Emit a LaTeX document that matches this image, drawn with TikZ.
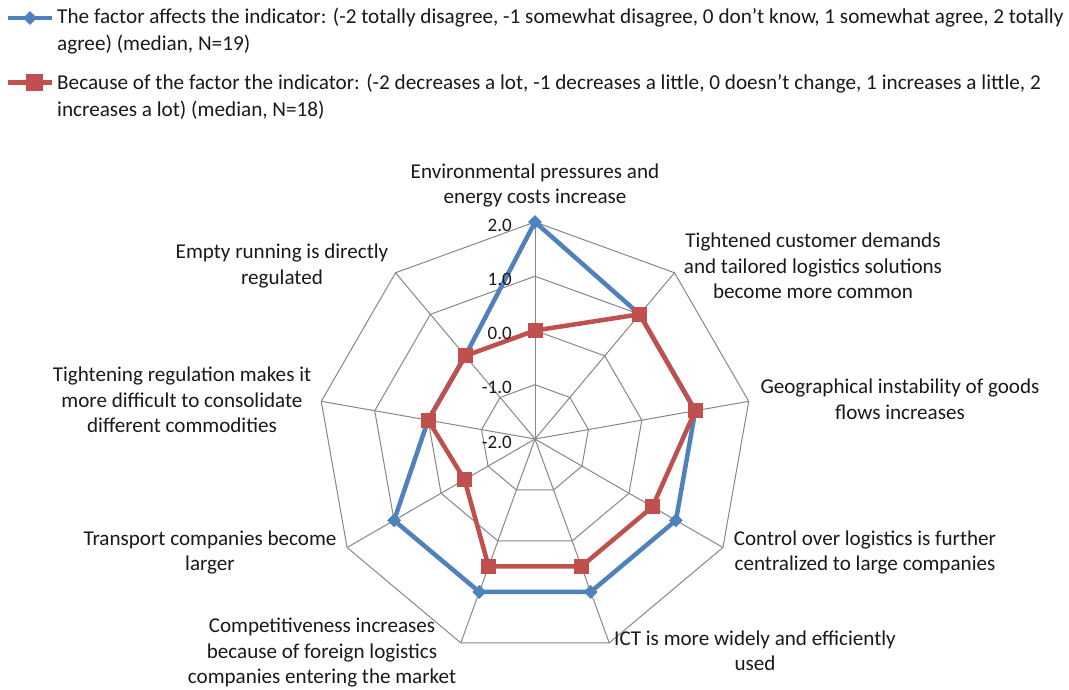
\documentclass[tikz,border=0pt]{standalone}
\usepackage{fontspec}
\setmainfont{Carlito}
\usetikzlibrary{shapes.geometric}
\definecolor{serblue}{HTML}{4F81BD}
\definecolor{serred}{HTML}{C0504D}
\definecolor{gridc}{HTML}{878787}
\definecolor{txt}{HTML}{1A1A1A}
\begin{document}
\begin{tikzpicture}[x=1pt,y=-1pt,
  cat/.style={align=center, inner sep=0pt, text=txt, font=\fontsize{21.1}{25.5}\selectfont},
  leg/.style={align=left, inner sep=0pt, text=txt, anchor=west, font=\fontsize{21.2}{27.5}\selectfont},
  ticklab/.style={inner sep=0pt, text=txt, anchor=east, font=\fontsize{19}{22}\selectfont},
  gridline/.style={draw=gridc, line width=1pt},
  blueline/.style={draw=serblue, line width=4.5pt, line join=round},
  redline/.style={draw=serred, line width=4.5pt, line join=round},
  bluemark/.style={diamond, fill=serblue, inner sep=0pt, minimum size=14pt},
  redmark/.style={rectangle, fill=serred, inner sep=0pt, minimum size=15pt}]
\useasboundingbox (0,0) rectangle (1069,690);
\fill[white] (0,0) rectangle (1069,690);

% legend
\coordinate (l1a) at (8,18); \coordinate (l1b) at (52,18);
\draw[blueline] (l1a) -- (l1b);
\node[bluemark] (lm1) at (30,18) {};
\node[leg] (lt1) at (57,31) {The factor affects the indicator: (-2 totally disagree, -1 somewhat disagree, 0 don't know, 1 somewhat agree, 2 totally\\agree) (median, N=19)};
\coordinate (l2a) at (8,82.5); \coordinate (l2b) at (52,82.5);
\draw[redline] (l2a) -- (l2b);
\node[redmark, minimum size=17pt] (lm2) at (34,82.5) {};
\node[leg] (lt2) at (57,96.5) {Because of the factor the indicator: (-2 decreases a lot, -1 decreases a little, 0 doesn't change, 1 increases a little, 2\\increases a lot) (median, N=18)};

% radar
\begin{scope}[shift={(535,439)}, y=1pt]
  \coordinate (C) at (0,0);
  \foreach \r in {54.25,108.5,162.75,217}
    \draw[gridline] (90:\r) \foreach \i in {1,...,8}{ -- ({90-40*\i}:\r)} -- cycle;
  \foreach \i in {0,...,8}
    \draw[gridline] (C) -- ({90-40*\i}:217);
  % series
  \foreach \v [count=\i from 0] in {2,1,1,1,1,1,1,0,0}
    \coordinate (b\i) at ({90-40*\i}:{(\v+2)*54.25});
  \foreach \v [count=\i from 0] in {0,1,1,0.5,0.5,0.5,-0.5,0,0}
    \coordinate (r\i) at ({90-40*\i}:{(\v+2)*54.25});
  \draw[blueline] (b0) -- (b1) -- (b2) -- (b3) -- (b4) -- (b5) -- (b6) -- (b7) -- (b8) -- cycle;
  \foreach \i in {0,...,8} \node[bluemark] (bm\i) at (b\i) {};
  \draw[redline] (r0) -- (r1) -- (r2) -- (r3) -- (r4) -- (r5) -- (r6) -- (r7) -- (r8) -- cycle;
  \foreach \i in {0,...,8} \node[redmark] (rm\i) at (r\i) {};
  % tick labels
  \node[ticklab] (t2) at (-23,214) {2.0};
  \node[ticklab] (t1) at (-23,160) {1.0};
  \node[ticklab] (t0) at (-23,105.5) {0.0};
  \node[ticklab] (tm1) at (-23,51.25) {-1.0};
  \node[ticklab] (tm2) at (-23,-3) {-2.0};
\end{scope}

% category labels
\node[cat] (c0) at (535,185.5) {Environmental pressures and\\energy costs increase};
\node[cat] (c1) at (813,266) {Tightened customer demands\\and tailored logistics solutions\\become more common};
\node[cat] (c2) at (900,399.5) {Geographical instability of goods\\flows increases};
\node[cat] (c3) at (865,552.5) {Control over logistics is further\\centralized to large companies};
\node[cat] (c4) at (755,650.5) {ICT is more widely and efficiently\\used};
\node[cat] (c5) at (322,653) {Competitiveness increases\\because of foreign logistics\\companies entering the market};
\node[cat] (c6) at (210,552.5) {Transport companies become\\larger};
\node[cat] (c7) at (182,400) {Tightening regulation makes it\\more difficult to consolidate\\different commodities};
\node[cat] (c8) at (282,266) {Empty running is directly\\regulated};
\end{tikzpicture}
\end{document}
